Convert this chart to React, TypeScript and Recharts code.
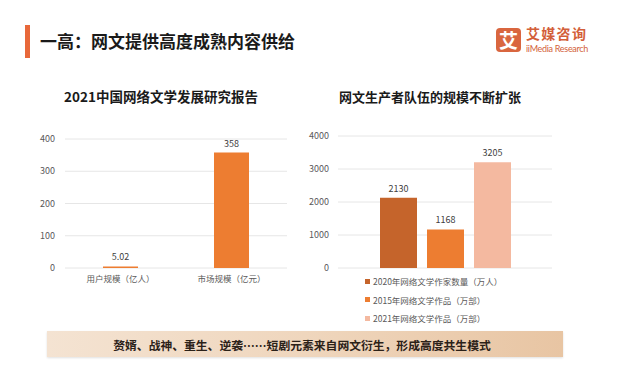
import React from "react";
import { BarChart, Bar, XAxis, YAxis, CartesianGrid, LabelList } from "recharts";

const FONT = '"Noto Sans CJK SC", "Noto Sans", sans-serif';

// Left chart data
const leftCategories = ["用户规模（亿人）", "市场规模（亿元）"];
const leftValues = [5.02, 358];
const leftTicks = [0, 100, 200, 300, 400];

// Right chart data
const rightSeriesNames = [
  "2020年网络文学作家数量（万人）",
  "2015年网络文学作品（万部）",
  "2021年网络文学作品（万部）",
];
const rightValues = [2130, 1168, 3205];
const rightColors = ["#C5642B", "#ED7D31", "#F4B9A0"];
const rightTicks = [0, 1000, 2000, 3000, 4000];

const leftData = leftCategories.map((name, i) => ({ name, value: leftValues[i] }));
const rightData = [
  rightValues.reduce((acc: Record<string, number | string>, v, i) => {
    acc["s" + i] = v;
    return acc;
  }, { name: "" } as Record<string, number | string>),
];

const tickStyle = { fontSize: 9, fill: "#595959", fontFamily: FONT };

export default function App() {
  return (
    <div
      style={{
        position: "absolute",
        left: 0,
        top: 0,
        width: 618,
        height: 380,
        background: "#fff",
        fontFamily: FONT,
        overflow: "hidden",
      }}
    >
      {/* header */}
      <div style={{ position: "absolute", left: 25, top: 25, width: 5, height: 33, background: "#E8683A" }} />
      <div
        style={{
          position: "absolute",
          left: 40,
          top: 29,
          fontSize: 17,
          fontWeight: 700,
          color: "#1a1a1a",
          lineHeight: "24px",
          whiteSpace: "nowrap",
        }}
      >
        一高：网文提供高度成熟内容供给
      </div>
      {/* logo */}
      <div
        style={{
          position: "absolute",
          left: 496,
          top: 28,
          width: 25,
          height: 24,
          borderRadius: 4,
          background: "#D9663F",
          color: "#fff",
          fontSize: 19,
          fontWeight: 700,
          lineHeight: "24px",
          textAlign: "center",
        }}
      >
        艾
      </div>
      <div
        style={{
          position: "absolute",
          left: 526,
          top: 26,
          fontSize: 14,
          fontWeight: 700,
          color: "#D35F3A",
          lineHeight: "14px",
          whiteSpace: "nowrap",
          letterSpacing: 1.3,
        }}
      >
        艾媒咨询
      </div>
      <div
        style={{
          position: "absolute",
          left: 526,
          top: 44,
          fontSize: 9,
          fontFamily: "Lato, sans-serif",
          color: "#D35F3A",
          lineHeight: "10px",
          whiteSpace: "nowrap",
          letterSpacing: -0.3,
        }}
      >
        iiMedia Research
      </div>

      {/* chart titles */}
      <div
        style={{
          position: "absolute",
          left: 61,
          width: 200,
          top: 87,
          textAlign: "center",
          fontSize: 13.5,
          fontWeight: 700,
          color: "#1a1a1a",
          lineHeight: "18px",
          whiteSpace: "nowrap",
        }}
      >
        2021中国网络文学发展研究报告
      </div>
      <div
        style={{
          position: "absolute",
          left: 330,
          width: 200,
          top: 88,
          textAlign: "center",
          fontSize: 13,
          fontWeight: 700,
          color: "#1a1a1a",
          lineHeight: "18px",
          whiteSpace: "nowrap",
        }}
      >
        网文生产者队伍的规模不断扩张
      </div>

      {/* left chart */}
      <div style={{ position: "absolute", left: 0, top: 100 }}>
        <BarChart width={300} height={200} data={leftData} margin={{ top: 39, right: 13, bottom: 12, left: 0 }}>
          <CartesianGrid vertical={false} stroke="#E6E6E6" />
          <XAxis
            dataKey="name"
            axisLine={false}
            tickLine={false}
            height={20}
            tick={{ ...tickStyle, fontSize: 8.5 }}
            tickMargin={2}
            interval={0}
          />
          <YAxis
            width={65}
            domain={[0, 400]}
            ticks={leftTicks}
            axisLine={false}
            tickLine={false}
            tick={tickStyle}
            tickMargin={4}
          />
          <Bar dataKey="value" fill="#ED7D31" barSize={35} isAnimationActive={false}>
            <LabelList dataKey="value" position="top" offset={6} fill="#404040" fontSize={9} fontFamily={FONT} />
          </Bar>
        </BarChart>
      </div>

      {/* right chart */}
      <div style={{ position: "absolute", left: 300, top: 100 }}>
        <BarChart
          width={300}
          height={200}
          data={rightData}
          margin={{ top: 36, right: 48, bottom: 32, left: 0 }}
          barGap={10}
        >
          <CartesianGrid vertical={false} stroke="#E6E6E6" />
          <XAxis dataKey="name" hide />
          <YAxis
            width={38}
            domain={[0, 4000]}
            ticks={rightTicks}
            axisLine={false}
            tickLine={false}
            tick={tickStyle}
            tickMargin={3}
          />
          {rightValues.map((_, i) => (
            <Bar key={i} dataKey={"s" + i} name={rightSeriesNames[i]} fill={rightColors[i]} barSize={37} isAnimationActive={false}>
              <LabelList dataKey={"s" + i} position="top" offset={6} fill="#404040" fontSize={9} fontFamily={FONT} />
            </Bar>
          ))}
        </BarChart>
      </div>

      {/* legend */}
      {rightSeriesNames.map((n, i) => (
        <div
          key={n}
          style={{
            position: "absolute",
            left: 365,
            top: 275 + i * 18.5,
            height: 12,
            display: "flex",
            alignItems: "center",
            whiteSpace: "nowrap",
          }}
        >
          <div style={{ width: 5, height: 5, background: rightColors[i], marginRight: 3 }} />
          <span style={{ fontSize: 8.5, color: "#595959", lineHeight: "12px" }}>{n}</span>
        </div>
      ))}

      {/* banner */}
      <div
        style={{
          position: "absolute",
          left: 47,
          top: 331,
          width: 516,
          height: 26,
          background: "linear-gradient(90deg, #F4E3D2 0%, #EFD6BD 50%, #E8C5A3 100%)",
          boxShadow: "0 1px 2px rgba(0,0,0,0.12)",
          display: "flex",
          alignItems: "center",
          justifyContent: "center",
        }}
      >
        <span style={{ fontSize: 11.8, fontWeight: 700, color: "#2b2118", whiteSpace: "nowrap", marginLeft: -6 }}>
          赘婿、战神、重生、逆袭……短剧元素来自网文衍生，形成高度共生模式
        </span>
      </div>
    </div>
  );
}
